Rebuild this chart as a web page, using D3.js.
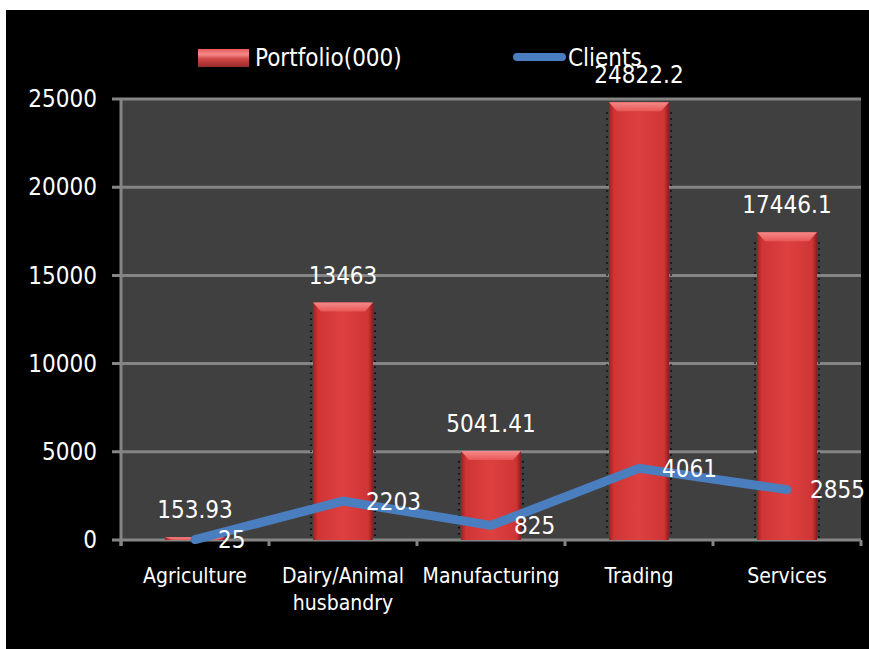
<!DOCTYPE html>
<html><head><meta charset="utf-8">
<script src="https://cdn.jsdelivr.net/npm/d3@7/dist/d3.min.js"></script>
<style>body{margin:0;background:#fff}svg{display:block}text{font-family:"Liberation Sans Narrow","DejaVu Sans Condensed",sans-serif;fill:#fff}</style>
</head><body><svg id="c" width="869" height="649"></svg>
<script>
const categories = ["Agriculture", "Dairy/Animal husbandry", "Manufacturing", "Trading", "Services"];
const categoryLines = [["Agriculture"], ["Dairy/Animal", "husbandry"], ["Manufacturing"], ["Trading"], ["Services"]];
const portfolio = [153.93, 13463, 5041.41, 24822.2, 17446.1];
const clients = [25, 2203, 825, 4061, 2855];
const yTicks = [0, 5000, 10000, 15000, 20000, 25000];
const seriesNames = ["Portfolio(000)", "Clients"];

const svg = d3.select("#c");
const defs = svg.append("defs");
const g1 = defs.append("linearGradient").attr("id","barBody").attr("x1","0").attr("x2","1").attr("y1","0").attr("y2","0");
[[0,"#9a2222"],[0.08,"#cf3535"],[0.5,"#de4040"],[0.92,"#cf3535"],[1,"#8a1e1e"]].forEach(s=>g1.append("stop").attr("offset",s[0]).attr("stop-color",s[1]));
const g2 = defs.append("linearGradient").attr("id","barTop").attr("x1","0").attr("x2","0").attr("y1","0").attr("y2","1");
[[0,"#f58a8a"],[1,"#e85656"]].forEach(s=>g2.append("stop").attr("offset",s[0]).attr("stop-color",s[1]));
const g3 = defs.append("linearGradient").attr("id","legSw").attr("x1","0").attr("x2","0").attr("y1","0").attr("y2","1");
[[0,"#e85a5a"],[0.3,"#f58a8a"],[0.55,"#d04545"],[1,"#9a2a2a"]].forEach(s=>g3.append("stop").attr("offset",s[0]).attr("stop-color",s[1]));

svg.append("rect").attr("x",6).attr("y",10).attr("width",863).attr("height",639).attr("fill","#000");

const x = d3.scaleBand().domain(categories).range([121, 861]).padding(0);
const y = d3.scaleLinear().domain([0, 25000]).range([540, 99]);
const bw = 60;

svg.append("rect").attr("x",121).attr("y",99).attr("width",740).attr("height",441).attr("fill","#404040");

// gridlines
svg.append("g").selectAll("line").data(yTicks).join("line")
  .attr("x1",112).attr("x2",861).attr("y1",d=>y(d)).attr("y2",d=>y(d))
  .attr("stroke","#858585").attr("stroke-width",3);
// y axis line
svg.append("line").attr("x1",121).attr("x2",121).attr("y1",98).attr("y2",546).attr("stroke","#858585").attr("stroke-width",3);
// x ticks
const bounds = categories.map(c=>x(c)).concat([861]);
svg.append("g").selectAll("line").data(bounds).join("line")
  .attr("x1",d=>d).attr("x2",d=>d).attr("y1",540).attr("y2",546).attr("stroke","#858585").attr("stroke-width",3);

// y labels
const yAxis = d3.axisLeft(y).tickValues(yTicks).tickSize(0).tickPadding(0).tickFormat(d3.format("d"));
const ya = svg.append("g").attr("transform","translate(97,0)").call(yAxis);
ya.select(".domain").remove();
ya.selectAll("text").attr("font-size",24).attr("fill","#fff").attr("font-family",null);

// bars
const bars = svg.append("g").selectAll("g").data(portfolio).join("g");
bars.append("rect").attr("x",(d,i)=>x(categories[i])+x.bandwidth()/2-bw/2).attr("y",d=>y(d))
  .attr("width",bw).attr("height",d=>y(0)-y(d)).attr("fill","url(#barBody)");
bars.append("path").attr("d",(d,i)=>{
  const l=x(categories[i])+x.bandwidth()/2-bw/2, t=y(d), h=Math.min(9, y(0)-y(d));
  return `M${l},${t}L${l+bw},${t}L${l+bw-8},${t+h}L${l+8},${t+h}Z`;
}).attr("fill","url(#barTop)");
bars.each(function(d,i){
  const l=x(categories[i])+x.bandwidth()/2-bw/2, t=y(d);
  if (y(0)-t < 12) return;
  [l-2, l+bw+2].forEach(xx=>d3.select(this).append("line").attr("x1",xx).attr("x2",xx).attr("y1",t+10).attr("y2",y(0)-2)
    .attr("stroke","#000").attr("stroke-width",1.5).attr("stroke-dasharray","1.5,4.5"));
});
// bar labels
svg.append("g").selectAll("text").data(portfolio).join("text")
  .attr("x",(d,i)=>x(categories[i])+x.bandwidth()/2).attr("y",d=>y(d)-19)
  .attr("text-anchor","middle").attr("font-size",24).text(d=>String(d));

// line
const line = d3.line().x((d,i)=>x(categories[i])+x.bandwidth()/2).y(d=>y(d));
svg.append("path").datum(clients).attr("d",line).attr("fill","none").attr("stroke","#4a7ebf")
  .attr("stroke-width",9).attr("stroke-linecap","round").attr("stroke-linejoin","miter");
svg.append("g").selectAll("text").data(clients).join("text")
  .attr("x",(d,i)=>x(categories[i])+x.bandwidth()/2+23).attr("y",d=>y(d)).attr("dy","0.35em")
  .attr("font-size",24).text(d=>String(d));

// x labels
const xl = svg.append("g").selectAll("text").data(categoryLines).join("text")
  .attr("x",(d,i)=>x(categories[i])+x.bandwidth()/2).attr("y",583).attr("text-anchor","middle").attr("font-size",21);
xl.selectAll("tspan").data(d=>d).join("tspan").attr("x",function(){return this.parentNode.getAttribute("x");})
  .attr("dy",(d,j)=>j===0?0:27).text(d=>d);

// legend
svg.append("rect").attr("x",198).attr("y",49).attr("width",51).attr("height",18).attr("fill","url(#legSw)");
svg.append("text").attr("x",255).attr("y",66).attr("font-size",24).text(seriesNames[0]);
svg.append("line").attr("x1",517).attr("x2",562).attr("y1",57).attr("y2",57).attr("stroke","#4a7ebf").attr("stroke-width",8).attr("stroke-linecap","round");
svg.append("text").attr("x",568).attr("y",66).attr("font-size",24).text(seriesNames[1]);
</script></body></html>
